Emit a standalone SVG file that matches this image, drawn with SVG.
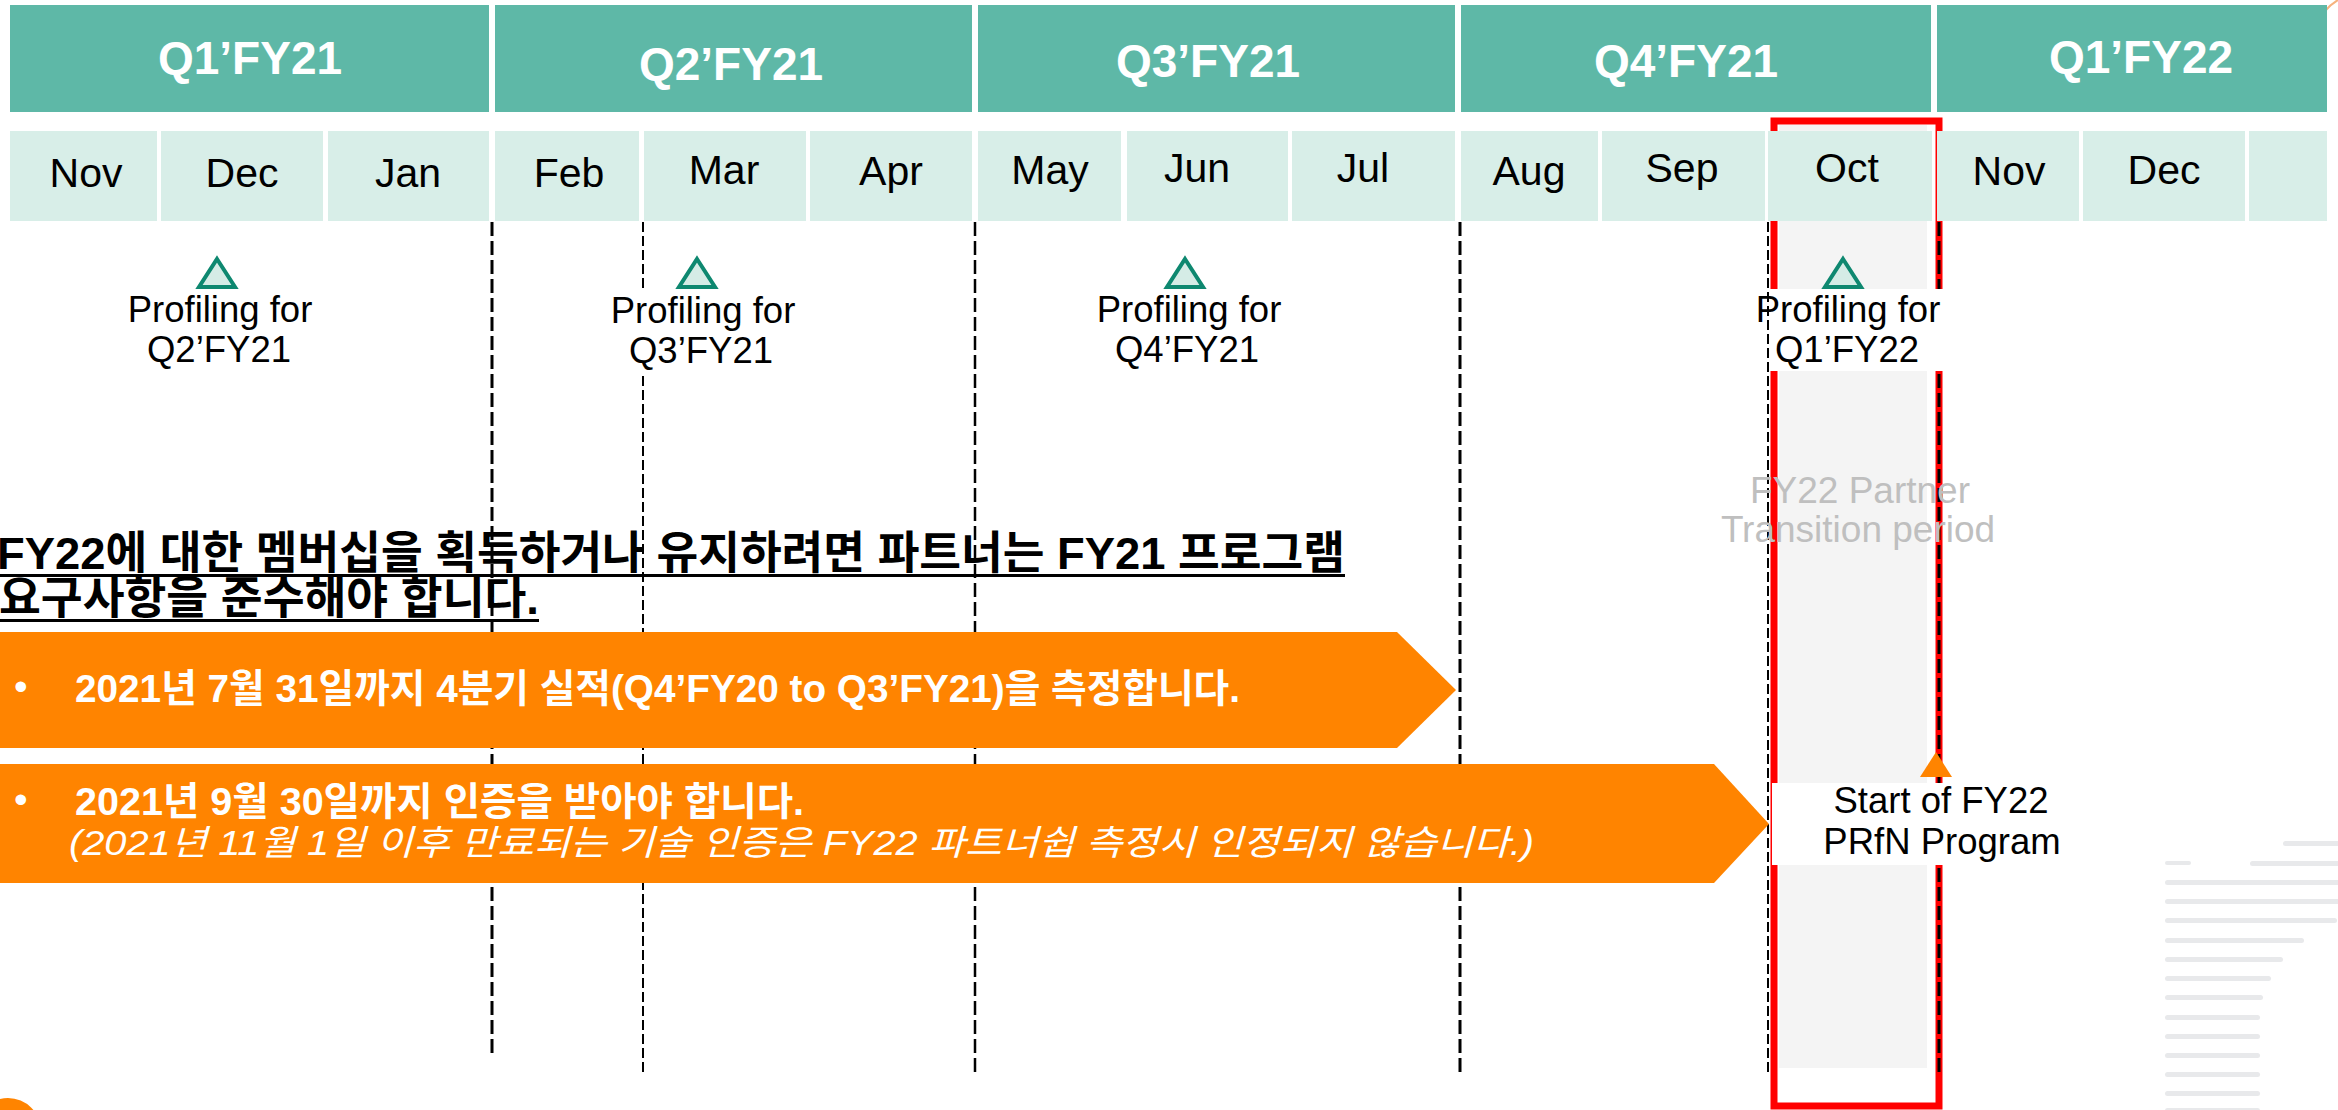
<svg xmlns="http://www.w3.org/2000/svg" width="2338" height="1110" viewBox="0 0 2338 1110">
  <style>
    .q { fill: #5EB8A7; }
    .qt { font-family: "Liberation Sans", Arial, sans-serif; font-weight: bold; font-size: 46px; fill: #ffffff; text-anchor: middle; }
    .m { fill: #D8EEE8; }
    .mt { font-family: "Liberation Sans", Arial, sans-serif; font-size: 41px; fill: #000000; text-anchor: middle; }
    .dthick { stroke: #000; stroke-width: 3; stroke-dasharray: 14 5; fill: none; }
    .dthin { stroke: #000; stroke-width: 2; stroke-dasharray: 10 4; fill: none; }
    .tri { fill: #D5ECE6; stroke: #0E8870; stroke-width: 4; stroke-linejoin: miter; }
    .pt { font-family: "Liberation Sans", Arial, sans-serif; font-size: 36.5px; fill: #000; text-anchor: middle; }
    .head { font-family: "Liberation Sans", "Noto Sans CJK KR", sans-serif; font-weight: bold; font-size: 45px; fill: #000; }
    .arrow { fill: #FF8400; }
    .bt { font-family: "Liberation Sans", "Noto Sans CJK KR", sans-serif; font-weight: bold; font-size: 39px; fill: #fff; }
    .it { font-family: "Liberation Sans", "Noto Sans CJK KR", sans-serif; font-style: italic; font-size: 35px; fill: #fff; }
    .grey { font-family: "Liberation Sans", Arial, sans-serif; font-size: 37px; fill: #BFBFBF; text-anchor: middle; }
    .stripe { fill: #E8E9EB; }
  </style>

  <rect x="0" y="0" width="2338" height="1110" fill="#ffffff"/>

  <!-- background decoration -->
  <g id="decor">
    <path d="M2325 11 Q2331 4 2338 0" fill="none" stroke="#F6B27E" stroke-width="2"/>
    <circle cx="8" cy="1131" r="33" fill="#FF8400"/>
    <g id="stripes">
      <rect class="stripe" x="2283" y="841" width="60" height="5" rx="2.5"/>
      <rect class="stripe" x="2165" y="861" width="26" height="4" rx="2"/>
      <rect class="stripe" x="2250" y="861" width="93" height="5" rx="2.5"/>
      <rect class="stripe" x="2165" y="880" width="178" height="5" rx="2.5"/>
      <rect class="stripe" x="2165" y="899" width="178" height="5" rx="2.5"/>
      <rect class="stripe" x="2165" y="918" width="172" height="5" rx="2.5"/>
      <rect class="stripe" x="2165" y="938" width="139" height="5" rx="2.5"/>
      <rect class="stripe" x="2165" y="957" width="118" height="5" rx="2.5"/>
      <rect class="stripe" x="2165" y="976" width="106" height="5" rx="2.5"/>
      <rect class="stripe" x="2165" y="995" width="98" height="5" rx="2.5"/>
      <rect class="stripe" x="2165" y="1015" width="95" height="5" rx="2.5"/>
      <rect class="stripe" x="2165" y="1034" width="95" height="5" rx="2.5"/>
      <rect class="stripe" x="2165" y="1053" width="95" height="5" rx="2.5"/>
      <rect class="stripe" x="2165" y="1072" width="95" height="5" rx="2.5"/>
      <rect class="stripe" x="2165" y="1091" width="95" height="5" rx="2.5"/>
      <rect class="stripe" x="2165" y="1108" width="95" height="5" rx="2.5"/>
    </g>
  </g>

  <!-- transition period highlight -->
  <g id="transition-period">
    <rect x="1779" y="125" width="148" height="943" fill="#F4F4F4"/>
    <rect x="1774" y="121" width="165" height="985" fill="none" stroke="#FF0000" stroke-width="7"/>
  </g>

  <!-- vertical dashed guide lines -->
  <g id="connectors">
    <line class="dthick" x1="492" y1="222" x2="492" y2="1057"/>
    <line class="dthin" x1="643" y1="222" x2="643" y2="1073"/>
    <line class="dthick" x1="975" y1="222" x2="975" y2="1073" style="stroke-width:2.5"/>
    <line class="dthick" x1="1460" y1="222" x2="1460" y2="1075"/>
    <line class="dthin" x1="1768" y1="222" x2="1768" y2="1073"/>
    <line class="dthick" x1="1939" y1="222" x2="1939" y2="1077"/>
  </g>

  <!-- quarter headers -->
  <g id="quarters">
    <g id="q1-fy21"><rect class="q" x="10" y="5" width="479" height="107"/><text class="qt" x="250" y="74">Q1’FY21</text></g>
    <g id="q2-fy21"><rect class="q" x="495" y="5" width="477" height="107"/><text class="qt" x="731" y="80">Q2’FY21</text></g>
    <g id="q3-fy21"><rect class="q" x="978" y="5" width="477" height="107"/><text class="qt" x="1208" y="77">Q3’FY21</text></g>
    <g id="q4-fy21"><rect class="q" x="1461" y="5" width="470" height="107"/><text class="qt" x="1686" y="77">Q4’FY21</text></g>
    <g id="q1-fy22"><rect class="q" x="1937" y="5" width="390" height="107"/><text class="qt" x="2141" y="73">Q1’FY22</text></g>
  </g>

  <!-- months -->
  <g id="months">
    <g id="m-nov21"><rect class="m" x="10" y="131" width="147" height="90"/><text class="mt" x="86" y="187">Nov</text></g>
    <g id="m-dec21"><rect class="m" x="161" y="131" width="162" height="90"/><text class="mt" x="242" y="187">Dec</text></g>
    <g id="m-jan"><rect class="m" x="328" y="131" width="161" height="90"/><text class="mt" x="408" y="187">Jan</text></g>
    <g id="m-feb"><rect class="m" x="495" y="131" width="144" height="90"/><text class="mt" x="569" y="187">Feb</text></g>
    <g id="m-mar"><rect class="m" x="644" y="131" width="162" height="90"/><text class="mt" x="724" y="184">Mar</text></g>
    <g id="m-apr"><rect class="m" x="810" y="131" width="162" height="90"/><text class="mt" x="891" y="185">Apr</text></g>
    <g id="m-may"><rect class="m" x="978" y="131" width="143" height="90"/><text class="mt" x="1050" y="184">May</text></g>
    <g id="m-jun"><rect class="m" x="1127" y="131" width="161" height="90"/><text class="mt" x="1197" y="182">Jun</text></g>
    <g id="m-jul"><rect class="m" x="1292" y="131" width="163" height="90"/><text class="mt" x="1363" y="182">Jul</text></g>
    <g id="m-aug"><rect class="m" x="1461" y="131" width="137" height="90"/><text class="mt" x="1529" y="185">Aug</text></g>
    <g id="m-sep"><rect class="m" x="1602" y="131" width="163" height="90"/><text class="mt" x="1682" y="182">Sep</text></g>
    <g id="m-oct"><rect class="m" x="1768" y="131" width="164" height="90"/><text class="mt" x="1847" y="182">Oct</text></g>
    <g id="m-nov22"><rect class="m" x="1937" y="131" width="142" height="90"/><text class="mt" x="2009" y="185">Nov</text></g>
    <g id="m-dec22"><rect class="m" x="2083" y="131" width="162" height="90"/><text class="mt" x="2164" y="184">Dec</text></g>
    <g id="m-blank"><rect class="m" x="2249" y="131" width="78" height="90"/></g>
  </g>

  <!-- heading -->
  <g id="heading">
    <text class="head" x="-3" y="569" textLength="1348" lengthAdjust="spacingAndGlyphs">FY22에 대한 멤버십을 획득하거나 유지하려면 파트너는 FY21 프로그램</text>
    <rect x="0" y="574" width="1345" height="3" fill="#000"/>
    <text class="head" x="-1" y="614" textLength="540" lengthAdjust="spacingAndGlyphs">요구사항을 준수해야 합니다.</text>
    <rect x="0" y="619" width="539" height="3" fill="#000"/>
  </g>

  <!-- orange arrows -->
  <g id="arrow-1">
    <polygon class="arrow" points="0,632 1397,632 1456,690 1397,748 0,748"/>
    <text class="bt" x="14" y="700" style="font-weight:normal">•</text>
    <text class="bt" x="75" y="702" textLength="1165" lengthAdjust="spacingAndGlyphs">2021년 7월 31일까지 4분기 실적(Q4’FY20 to Q3’FY21)을 측정합니다.</text>
  </g>
  <g id="arrow-2">
    <polygon class="arrow" points="0,764 1714,764 1769,824 1714,883 0,883"/>
    <text class="bt" x="14" y="813" style="font-weight:normal">•</text>
    <text class="bt" x="75" y="815" textLength="729" lengthAdjust="spacingAndGlyphs">2021년 9월 30일까지 인증을 받아야 합니다.</text>
    <text class="it" x="69" y="855" textLength="1465" lengthAdjust="spacingAndGlyphs">(2021년 11월 1일 이후 만료되는 기술 인증은 FY22 파트너쉽 측정시 인정되지 않습니다.)</text>
  </g>

  <!-- profiling milestones -->
  <g id="profiling-q2">
    <rect x="133" y="290" width="174" height="82" fill="#fff"/>
    <polygon class="tri" points="217,259 235,287 199,287"/>
    <text class="pt" x="220" y="322">Profiling for</text>
    <text class="pt" x="219" y="362">Q2’FY21</text>
  </g>
  <g id="profiling-q3">
    <rect x="615" y="290" width="174" height="83" fill="#fff"/>
    <polygon class="tri" points="697,259 715,287 679,287"/>
    <text class="pt" x="703" y="323">Profiling for</text>
    <text class="pt" x="701" y="363">Q3’FY21</text>
  </g>
  <g id="profiling-q4">
    <rect x="1102" y="290" width="174" height="82" fill="#fff"/>
    <polygon class="tri" points="1185,259 1203,287 1167,287"/>
    <text class="pt" x="1189" y="322">Profiling for</text>
    <text class="pt" x="1187" y="362">Q4’FY21</text>
  </g>
  <g id="profiling-q1-fy22">
    <rect x="1770" y="289" width="173" height="82" fill="#fff"/>
    <polygon class="tri" points="1843,259 1861,287 1825,287"/>
    <text class="pt" x="1848" y="322">Profiling for</text>
    <text class="pt" x="1847" y="362">Q1’FY22</text>
  </g>

  <!-- transition label -->
  <g id="transition-label">
    <text class="grey" x="1860" y="503">FY22 Partner</text>
    <text class="grey" x="1858" y="542">Transition period</text>
  </g>

  <!-- start of FY22 program -->
  <g id="start-fy22">
    <polygon points="1936,752 1952,777 1920,777" fill="#FF8400"/>
    <rect x="1772" y="783" width="340" height="82" fill="#fff"/>
    <text class="pt" x="1941" y="813">Start of FY22</text>
    <text class="pt" x="1942" y="854">PRfN Program</text>
  </g>
</svg>
